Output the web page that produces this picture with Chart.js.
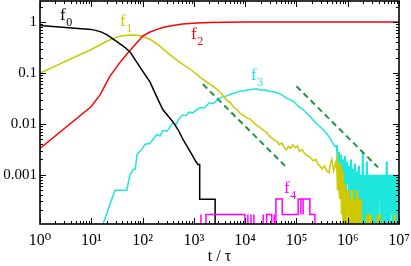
<!DOCTYPE html>
<html>
  <head>
    <style>
      body { margin: 0; background: white; }
      #chart-container { position: relative; width: 411px; height: 266px; }
    </style>
  </head>
  <body>
    <div id="chart-container"><canvas id="chart"></canvas></div>

    <script src="https://cdn.jsdelivr.net/npm/chart.js"></script>
    <script>
      // one event out of the ensemble, used for the noisy late-time counts
      const UNIT = 1 / 6000;
      // a log axis cannot show 0, so empty bins go just below the frame
      const BELOW_AXIS = 1e-6;

      const xTicks = [1, 10, 100, 1e3, 1e4, 1e5, 1e6, 1e7];
      const xTickLabels = ['10⁰', '10¹', '10²', '10³', '10⁴', '10⁵', '10⁶', '10⁷'];
      const yTicks = [0.001, 0.01, 0.1, 1];
      const yTickLabels = ['0.001', '0.01', '0.1', '1'];

      // f0
      const f0T = [1, 10, 15, 20, 31, 45, 57, 89, 140, 200, 250, 320, 390, 500, 610, 780, 960, 1100, 1200, 1300, 1300, 2600, 2600];
      const f0V = [0.86, 0.72, 0.65, 0.57, 0.42, 0.32, 0.26, 0.13, 0.066, 0.03, 0.019, 0.014, 0.011, 0.0075, 0.005, 0.0033, 0.0023, 0.0018, 0.0016, 0.0016, 0.00033, 0.00033, 0];

      // f1
      const f1T = [1, 10, 20, 27, 40, 57, 80, 100, 140, 200, 340, 500, 840, 1500, 2200, 2800, 3400, 4400, 5200, 6000,
                   7000, 8000, 9500, 11000, 12500, 14000, 16000, 19500, 23000, 26000, 30000, 34000, 38000, 41000, 46000,
                   52000, 58000, 64000, 70000, 77000, 85000, 95000, 105000, 115000, 130000, 145000, 155000, 175000,
                   195000, 210000, 240000, 265000, 285000, 315000, 350000, 390000, 430000, 460000, 490000, 530000, 560000];
      const f1V = [0.1, 0.29, 0.42, 0.48, 0.54, 0.56, 0.55, 0.52, 0.46, 0.36, 0.23, 0.17, 0.12, 0.075, 0.058, 0.048, 0.04, 0.029, 0.026, 0.021,
                   0.019, 0.016, 0.0145, 0.013, 0.0125, 0.011, 0.0098, 0.0085, 0.0074, 0.0069, 0.0057, 0.0052, 0.0047, 0.0046, 0.0039,
                   0.0042, 0.0034, 0.0031, 0.0036, 0.0033, 0.0039, 0.0034, 0.0037, 0.0029, 0.0031, 0.0026, 0.0025, 0.0023,
                   0.0021, 0.0019, 0.002, 0.0016, 0.0015, 0.0013, 0.0015, 0.0012, 0.0011, 0.0016, 0.002, 0.0012, 0.0014];

      // f2
      const f2T = [1, 10, 15, 23, 36, 57, 89, 100, 140, 190, 270, 390, 600, 1150, 2000, 4000, 1e4, 1e5, 1e6, 1e7];
      const f2V = [0.0033, 0.022, 0.038, 0.086, 0.16, 0.28, 0.46, 0.53, 0.64, 0.72, 0.8, 0.86, 0.92, 0.96, 0.98, 0.99, 1.0, 1.0, 1.0, 1.0];

      // f3
      const f3T = [16.5, 29, 49, 57, 65, 72, 78, 89, 100, 112, 139, 160, 190, 220, 250, 300, 390, 450, 520, 610,
                   700, 800, 950, 1150, 1350, 1600, 2000, 2400, 3000, 3700, 4500, 5500, 6500, 8000, 9500, 11500,
                   14000, 17000, 19500, 24000, 30000, 35000, 42000, 50000, 64000, 75000, 90000, 115000, 135000,
                   160000, 185000, 210000, 250000, 290000, 330000, 390000, 450000, 510000, 560000];
      const f3V = [0.0001, 0.0005, 0.0005, 0.001, 0.00126, 0.0013, 0.0025, 0.0029, 0.0033, 0.004, 0.0041, 0.005, 0.0062, 0.0058, 0.0075, 0.0072, 0.0105, 0.0098, 0.013, 0.015,
                   0.0145, 0.017, 0.0165, 0.019, 0.021, 0.0205, 0.026, 0.025, 0.031, 0.034, 0.036, 0.039, 0.041, 0.044, 0.045, 0.047,
                   0.048, 0.049, 0.046, 0.047, 0.044, 0.043, 0.041, 0.038, 0.032, 0.03, 0.027, 0.021, 0.019,
                   0.016, 0.014, 0.012, 0.01, 0.0088, 0.0078, 0.0064, 0.0053, 0.0042, 0.0036];

      // late times, where f1 and f3 are only a few counts
      const tTail = [6.15e5, 6.43e5, 6.73e5, 7.04e5, 7.36e5, 7.70e5, 8.05e5, 8.42e5, 8.81e5, 9.21e5,
                     9.63e5, 1.007e6, 1.053e6, 1.10e6, 1.15e6, 1.20e6, 1.26e6, 1.32e6, 1.38e6, 1.44e6,
                     1.51e6, 1.58e6, 1.65e6, 1.72e6, 1.80e6, 1.88e6, 1.97e6, 2.06e6, 2.15e6, 2.25e6,
                     2.36e6, 2.46e6, 2.58e6, 2.70e6, 2.82e6, 2.95e6, 3.08e6, 3.22e6, 3.37e6, 3.53e6,
                     3.69e6, 3.86e6, 4.03e6, 4.22e6, 4.41e6, 4.61e6, 4.82e6, 5.04e6, 5.28e6, 5.52e6,
                     5.77e6, 6.04e6, 6.31e6, 6.60e6, 6.90e6, 7.22e6, 7.55e6, 7.90e6, 8.26e6, 8.64e6,
                     9.03e6, 9.45e6, 1e7];
      const f1TailCounts = [12, 3, 9, 2, 10, 1, 7, 0, 4, 0,
                            3, 1, 3, 0, 2, 0, 3, 0, 2, 0,
                            3, 1, 2, 0, 2, 0, 0, 0, 0, 0,
                            1, 0, 1, 0, 1, 0, 0, 0, 0, 0,
                            0, 1, 0, 1, 0, 0, 0, 0, 0, 0,
                            0, 0, 0, 0, 0, 0, 0, 0, 1, 0,
                            0, 0, 0];
      const f3TailCounts = [22, 10, 17, 8, 15, 7, 12, 3, 14, 2,
                            11, 4, 9, 0, 12, 3, 8, 0, 10, 2,
                            7, 0, 9, 1, 6, 0, 17, 0, 6, 0,
                            11, 0, 6, 0, 6, 1, 6, 0, 6, 0,
                            6, 0, 6, 2, 6, 0, 6, 0, 6, 0,
                            11, 0, 6, 0, 6, 1, 6, 0, 6, 0,
                            6, 0, 6];

      // f4, in counts
      const f4T = [1375, 1375, 1375, 1720, 1720, 9900, 9900, 11300, 11300, 11300, 13000, 13000, 13000,
                   14800, 14800, 14800, 22500, 22500, 22500, 26200, 26200, 33000, 33000, 36900, 36900, 36900,
                   39800, 39800, 52900, 52900, 108000, 108000, 122000, 122000, 122000, 135000, 135000, 135000,
                   183000, 183000, 229000, 229000];
      const f4Counts = [0, 1, 0, 0, 1, 1, 0, 0, 1, 0, 0, 1, 0,
                        0, 1, 0, 0, 1, 0, 0, 1, 1, 0, 0, 1, 0,
                        0, 2, 2, 1, 1, 2, 2, 1, 2, 2, 1, 2,
                        2, 1, 1, 0];

      // t^-1 guide lines
      const guide1T = [1500, 60000];
      const guide1V = [0.06, 0.0015];
      const guide2T = [1e5, 3.9e6];
      const guide2V = [0.055, 0.0014];

      function pts(ts, vs) {
        return ts.map(function (t, i) { return { x: t, y: vs[i] > 0 ? vs[i] : BELOW_AXIS }; });
      }
      function countPts(ts, cs) {
        return ts.map(function (t, i) { return { x: t, y: cs[i] > 0 ? cs[i] * UNIT : BELOW_AXIS }; });
      }

      const SERIF = "'Liberation Serif', 'DejaVu Serif', serif";
      const colors = {
        f0: '#000000',
        f1: '#cdc800',
        f2: '#ff0000',
        f3: '#1fe6dc',
        f4: '#ff00ff',
        guide: '#1e9640'
      };

      const seriesLabels = [
        { sub: '0', color: colors.f0, x: 60, y: 20 },
        { sub: '1', color: colors.f1, x: 120, y: 26 },
        { sub: '2', color: colors.f2, x: 191, y: 39 },
        { sub: '3', color: colors.f3, x: 251, y: 80 },
        { sub: '4', color: colors.f4, x: 284, y: 193 }
      ];

      const framePlugin = {
        id: 'frame',
        afterDatasetsDraw: function (chart) {
          const ctx = chart.ctx;
          const a = chart.chartArea;
          const xs = chart.scales.x;
          const ys = chart.scales.y;
          ctx.save();
          ctx.strokeStyle = '#000';
          ctx.lineWidth = 1;
          ctx.beginPath();
          for (let d = 0; d <= 7; d++) {
            for (let k = 1; k <= 9; k++) {
              const v = k * Math.pow(10, d);
              if (v > xs.max) continue;
              const px = Math.round(xs.getPixelForValue(v)) + 0.5;
              const len = k === 1 ? 6 : 3;
              ctx.moveTo(px, a.bottom); ctx.lineTo(px, a.bottom - len);
              ctx.moveTo(px, a.top); ctx.lineTo(px, a.top + len);
            }
          }
          for (let d = -4; d <= 0; d++) {
            for (let k = 1; k <= 9; k++) {
              const v = k * Math.pow(10, d);
              if (v < ys.min || v > ys.max) continue;
              const py = Math.round(ys.getPixelForValue(v)) + 0.5;
              const len = k === 1 ? 6 : 3;
              ctx.moveTo(a.left, py); ctx.lineTo(a.left + len, py);
              ctx.moveTo(a.right, py); ctx.lineTo(a.right - len, py);
            }
          }
          ctx.stroke();
          ctx.lineWidth = 1.6;
          ctx.strokeRect(a.left, a.top, a.right - a.left, a.bottom - a.top);

          seriesLabels.forEach(function (l) {
            ctx.fillStyle = l.color;
            ctx.textBaseline = 'alphabetic';
            ctx.textAlign = 'left';
            ctx.font = '17px ' + SERIF;
            ctx.fillText('f', l.x, l.y);
            const w = ctx.measureText('f').width;
            ctx.font = '12px ' + SERIF;
            ctx.fillText(l.sub, l.x + w + 0.5, l.y + 6);
          });
          ctx.restore();
        }
      };

      function lineSet(data, color, extra) {
        return Object.assign({
          data: data,
          borderColor: color,
          borderWidth: 1.5,
          pointRadius: 0,
          tension: 0,
          fill: false
        }, extra || {});
      }

      const f1Main = pts(f1T, f1V);
      const f3Main = pts(f3T, f3V);

      const canvas = document.getElementById('chart');
      new Chart(canvas, {
        type: 'line',
        data: {
          datasets: [
            lineSet(pts(guide1T, guide1V), colors.guide, { borderDash: [6, 4], borderWidth: 2 }),
            lineSet(pts(guide2T, guide2V), colors.guide, { borderDash: [6, 4], borderWidth: 2 }),
            lineSet(countPts(f4T, f4Counts), colors.f4),
            lineSet(pts(f0T, f0V), colors.f0),
            lineSet(pts(f2T, f2V), colors.f2),
            lineSet(f1Main, colors.f1),
            lineSet(f1Main.slice(-1).concat(countPts(tTail, f1TailCounts)), colors.f1, { borderWidth: 2.2 }),
            lineSet(f3Main, colors.f3),
            lineSet(f3Main.slice(-1).concat(countPts(tTail, f3TailCounts)), colors.f3, { borderWidth: 2.2 })
          ]
        },
        options: {
          animation: false,
          responsive: true,
          maintainAspectRatio: false,
          layout: { padding: { top: 1, right: 12, bottom: 0, left: 0 } },
          plugins: { legend: { display: false }, tooltip: { enabled: false } },
          scales: {
            x: {
              type: 'logarithmic',
              position: 'bottom',
              min: 1,
              max: 1e7,
              grid: { display: false, drawTicks: false },
              border: { display: false },
              afterBuildTicks: function (s) { s.ticks = xTicks.map(function (v) { return { value: v }; }); },
              afterFit: function (s) { s.height = 42; s.paddingLeft = 0; s.paddingRight = 0; },
              ticks: {
                autoSkip: false,
                maxRotation: 0,
                padding: 7,
                color: '#000',
                font: { family: SERIF, size: 16 },
                callback: function (v) { return xTickLabels[xTicks.indexOf(v)]; }
              },
              title: {
                display: true,
                text: 't / τ',
                color: '#000',
                padding: { top: 0, bottom: 0 },
                font: { family: SERIF, size: 16 }
              }
            },
            y: {
              type: 'logarithmic',
              min: 1.08e-4,
              max: 2.6,
              grid: { display: false, drawTicks: false },
              border: { display: false },
              afterBuildTicks: function (s) { s.ticks = yTicks.map(function (v) { return { value: v }; }); },
              afterFit: function (s) { s.width = 40; s.paddingTop = 0; s.paddingBottom = 0; },
              ticks: {
                autoSkip: false,
                padding: 3,
                color: '#000',
                font: { family: SERIF, size: 15 },
                callback: function (v) { return yTickLabels[yTicks.indexOf(v)]; }
              }
            }
          }
        },
        plugins: [framePlugin]
      });
    </script>
  </body>
</html>
